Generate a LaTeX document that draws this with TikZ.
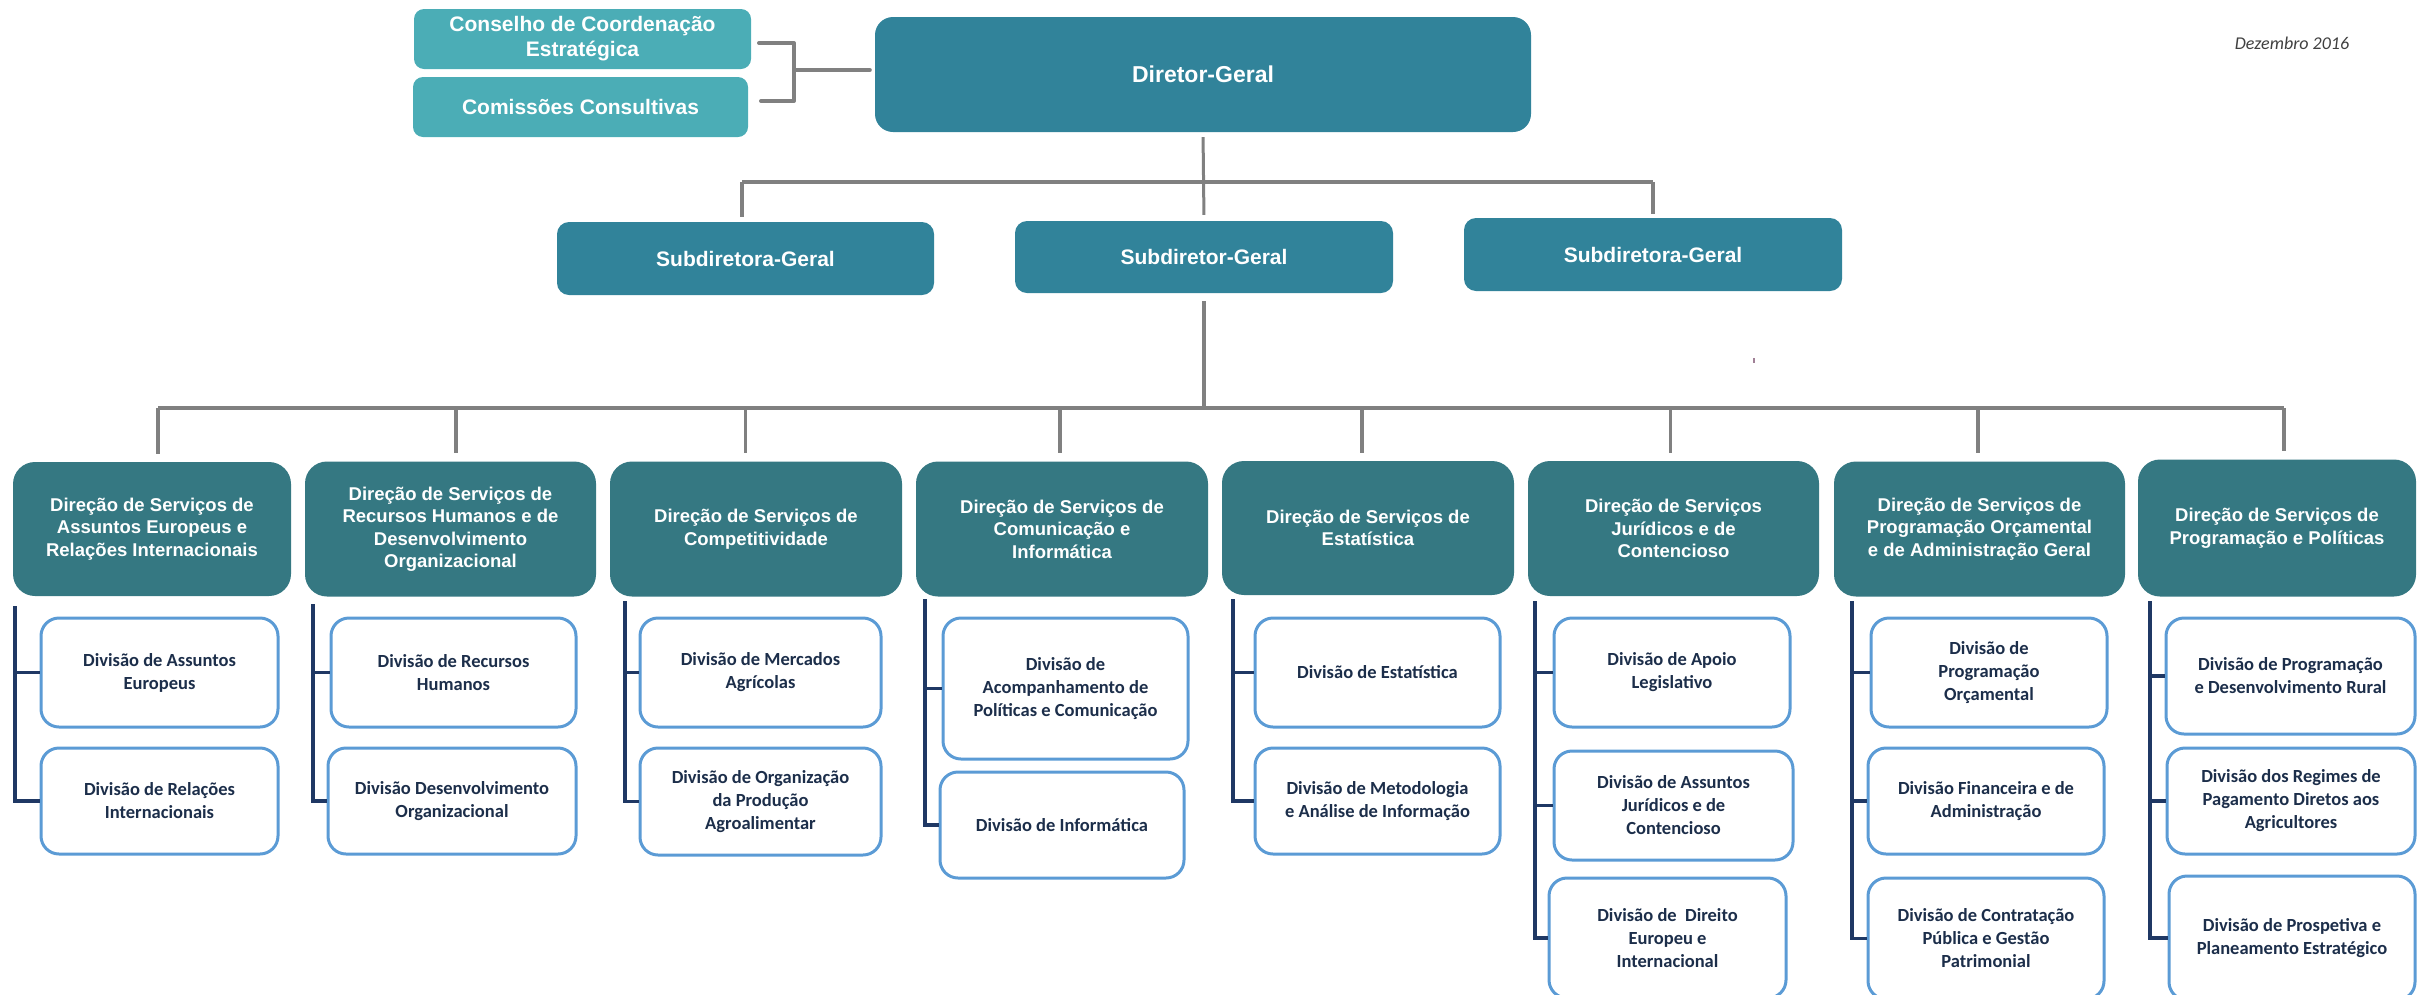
\documentclass[tikz,border=0pt]{standalone}
\usepackage{fontspec}
\setmainfont{Liberation Sans}
\newfontfamily\calfont{Carlito}
\usetikzlibrary{calc}
\definecolor{dgcol}{HTML}{31839A}
\definecolor{dircol}{HTML}{357882}
\definecolor{conscol}{HTML}{4BADB6}
\definecolor{divborder}{HTML}{5B9BD5}
\definecolor{navy}{HTML}{1F3864}
\definecolor{graycol}{HTML}{808080}
\definecolor{divtext}{HTML}{1C2E4A}
\definecolor{datecol}{HTML}{404040}
\definecolor{markcol}{HTML}{A08096}
\begin{document}
\begin{tikzpicture}[x=1pt,y=-1pt,
 gline/.style={draw=graycol, line width=3.5pt},
 gbus/.style={draw=graycol, line width=4.5pt},
 nline/.style={draw=navy, line width=3.5pt},
 topbox/.style={fill=dgcol, rounded corners=12pt, inner sep=0pt, align=center, text=white, font=\bfseries\fontsize{21}{25}\selectfont},
 consbox/.style={fill=conscol, rounded corners=10pt, inner sep=0pt, align=center, text=white, font=\bfseries\fontsize{21}{25}\selectfont},
 dirbox/.style={fill=dircol, rounded corners=22pt, inner sep=0pt, align=center, text=white, font=\bfseries\fontsize{18.5}{22.5}\selectfont},
 divbox/.style={draw=divborder, line width=3pt, fill=white, rounded corners=18pt, inner sep=0pt, align=center, text=divtext, font=\calfont\bfseries\fontsize{18.5}{23}\selectfont},
 sz/.style 2 args={minimum width=#1pt, minimum height=#2pt}]
\useasboundingbox (0,0) rectangle (2417,994);
\clip (0,0) rectangle (2417,994);

% top level
\node[consbox, sz={337}{60}] (cons) at (582.5,39) {Conselho de Coordenação\\Estratégica};
\node[consbox, sz={335}{60}] (comi) at (580.5,107) {Comissões Consultivas};
\node[topbox, sz={656}{115}, rounded corners=18pt, font=\bfseries\fontsize{23}{27}\selectfont] (dg) at (1203,74.5) {Diretor-Geral};
\node[topbox, sz={377}{73}] (sub1) at (745.5,258.5) {Subdiretora-Geral};
\node[topbox, sz={378}{72}] (sub2) at (1204,257) {Subdiretor-Geral};
\node[topbox, sz={378}{73}] (sub3) at (1653,254.5) {Subdiretora-Geral};
\node[font=\calfont\itshape\fontsize{18}{22}\selectfont, text=datecol] (date) at (2292,43) {Dezembro 2016};

% bracket
\coordinate (b1) at (759,43);
\coordinate (b2) at (761,101);
\coordinate (bk) at (794,70);
\draw[gline, line width=4pt, line cap=round, line join=round] (b1) -| (bk |- b2) -- (b2);
\draw[gline, line width=4pt, line cap=round, shorten >=5pt] (bk) -- (bk -| dg.west);

% director to subdirectors
\coordinate (h1) at (742,182);
\coordinate (h3) at (1653,182);
\draw[gbus, line width=4pt] (h1) -- (h3);
\draw[gline, line width=3pt, shorten <=5pt, shorten >=6pt] (dg.south) -- (sub2.north);
\draw[gline, shorten >=5pt] (h1) -- (h1 |- sub1.north);
\draw[gline, shorten >=4pt] (h3) -- (h3 |- sub3.north);

% direcoes
\node[dirbox, sz={278}{134}] (d1) at (152,529) {Direção de Serviços de\\Assuntos Europeus e\\Relações Internacionais};
\node[dirbox, sz={291}{135}] (d2) at (450.5,529) {Direção de Serviços de\\Recursos Humanos e de\\Desenvolvimento\\Organizacional};
\node[dirbox, sz={292}{135}] (d3) at (756,529) {Direção de Serviços de\\Competitividade};
\node[dirbox, sz={292}{135}] (d4) at (1062,529) {Direção de Serviços de\\Comunicação e\\Informática};
\node[dirbox, sz={292}{134}] (d5) at (1368,528) {Direção de Serviços de\\Estatística};
\node[dirbox, sz={291}{135}] (d6) at (1673.5,528.5) {Direção de Serviços\\Jurídicos e de\\Contencioso};
\node[dirbox, sz={291}{135}] (d7) at (1979.5,529) {Direção de Serviços de\\Programação Orçamental\\e de Administração Geral};
\node[dirbox, sz={278}{137}] (d8) at (2277,528) {Direção de Serviços de\\Programação e Políticas};

% bus
\coordinate (t1) at (158,408);
\coordinate (t2) at (456,408);
\coordinate (t3) at (745.5,408);
\coordinate (t4) at (1060,408);
\coordinate (t5) at (1362,408);
\coordinate (t6) at (1670.5,408);
\coordinate (t7) at (1978,408);
\coordinate (t8) at (2284,408);
\draw[gbus] (t1) -- (t8);
\foreach \i in {1,...,8}{\draw[gline, shorten >=8pt] (t\i) -- (t\i |- d\i.north);}
\draw[gline, shorten <=8pt] (sub2.south) -- (sub2.south |- t1);

% stray mark
\coordinate (mk) at (1754,358);
\draw[markcol, line width=2pt] (mk) -- ++(0,5);

% division connectors
\coordinate (c1) at (15,606);
\coordinate (c2) at (313,604);
\coordinate (c3) at (625,601);
\coordinate (c4) at (925,599);
\coordinate (c5) at (1233,599);
\coordinate (c6) at (1535,601);
\coordinate (c7) at (1852,601);
\coordinate (c8) at (2150,601);

% divisions
\node[divbox, sz={237}{109}] (v11) at (159.5,672.5) {Divisão de Assuntos\\Europeus};
\node[divbox, sz={237}{106}] (v12) at (159.5,801) {Divisão de Relações\\Internacionais};
\node[divbox, sz={245}{109}] (v21) at (453.5,672.5) {Divisão de Recursos\\Humanos};
\node[divbox, sz={248}{106}] (v22) at (452,801) {Divisão Desenvolvimento\\Organizacional};
\node[divbox, sz={241}{109}] (v31) at (760.5,672.5) {Divisão de Mercados\\Agrícolas};
\node[divbox, sz={241}{107}] (v32) at (760.5,801.5) {Divisão de Organização\\da Produção\\Agroalimentar};
\node[divbox, sz={245}{141}] (v41) at (1065.5,688.5) {Divisão de\\Acompanhamento de\\Políticas e Comunicação};
\node[divbox, sz={244}{106}] (v42) at (1062,825) {Divisão de Informática};
\node[divbox, sz={245}{109}] (v51) at (1377.5,672.5) {Divisão de Estatística};
\node[divbox, sz={245}{106}] (v52) at (1377.5,801) {Divisão de Metodologia\\e Análise de Informação};
\node[divbox, sz={236}{109}] (v61) at (1672,672.5) {Divisão de Apoio\\Legislativo};
\node[divbox, sz={239}{109}] (v62) at (1673.5,805.5) {Divisão de Assuntos\\Jurídicos e de\\Contencioso};
\node[divbox, sz={237}{120}] (v63) at (1667.5,938) {Divisão de\ \ Direito\\Europeu e\\Internacional};
\node[divbox, sz={236}{109}] (v71) at (1989,672.5) {Divisão de\\Programação\\Orçamental};
\node[divbox, sz={236}{106}] (v72) at (1986,801) {Divisão Financeira e de\\Administração};
\node[divbox, sz={236}{121}] (v73) at (1986,938.5) {Divisão de Contratação\\Pública e Gestão\\Patrimonial};
\node[divbox, sz={249}{116}] (v81) at (2290.5,676) {Divisão de Programação\\e Desenvolvimento Rural};
\node[divbox, sz={248}{106}] (v82) at (2291,801) {Divisão dos Regimes de\\Pagamento Diretos aos\\Agricultores};
\node[divbox, sz={246}{124}] (v83) at (2292,938) {Divisão de Prospetiva e\\Planeamento Estratégico};

\draw[nline] (c1) |- (v12.west);
\draw[nline] (c1 |- v11.west) -- (v11.west);
\draw[nline] (c2) |- (v22.west);
\draw[nline] (c2 |- v21.west) -- (v21.west);
\draw[nline] (c3) |- (v32.west);
\draw[nline] (c3 |- v31.west) -- (v31.west);
\draw[nline] (c4) |- (v42.west);
\draw[nline] (c4 |- v41.west) -- (v41.west);
\draw[nline] (c5) |- (v52.west);
\draw[nline] (c5 |- v51.west) -- (v51.west);
\draw[nline] (c6) |- (v63.west);
\draw[nline] (c6 |- v61.west) -- (v61.west);
\draw[nline] (c6 |- v62.west) -- (v62.west);
\draw[nline] (c7) |- (v73.west);
\draw[nline] (c7 |- v71.west) -- (v71.west);
\draw[nline] (c7 |- v72.west) -- (v72.west);
\draw[nline] (c8) |- (v83.west);
\draw[nline] (c8 |- v81.west) -- (v81.west);
\draw[nline] (c8 |- v82.west) -- (v82.west);
\end{tikzpicture}
\end{document}
